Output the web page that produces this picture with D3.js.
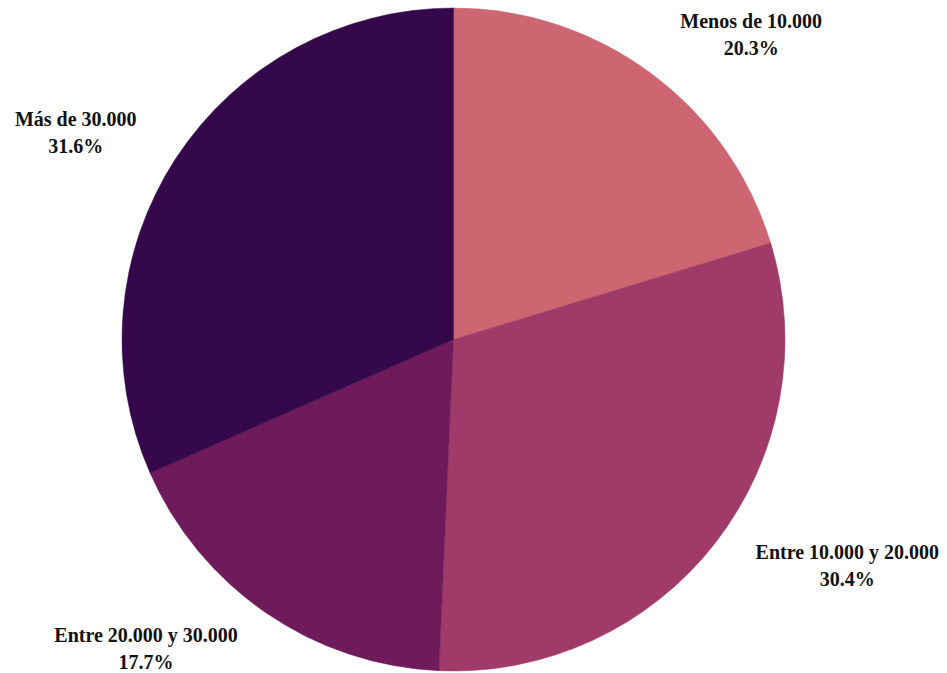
<!DOCTYPE html>
<html>
<head>
<meta charset="utf-8">
<script src="https://cdn.jsdelivr.net/npm/d3@7"></script>
<style>
  html, body { margin: 0; padding: 0; background: #ffffff; }
  svg { display: block; }
</style>
</head>
<body>
<svg id="chart" width="947" height="673"></svg>
<script>
// ---- Data ----
const categories = ["Menos de 10.000", "Entre 10.000 y 20.000", "Entre 20.000 y 30.000", "Más de 30.000"];
const shares = [20.3, 30.4, 17.7, 31.6];
const colors = ["#cd6670", "#a03a68", "#6f1a5a", "#35084b"];

// ---- Layout ----
const width = 947, height = 673;
const cx = 453.5, cy = 339.5, radius = 331.5;
// label centre positions relative to pie centre (angle in degrees clockwise from top, distance in px)
const labelAngles = [45, 120.7, 224.2, 297.8];
const labelDists = [421, 458, 441, 427];

const svg = d3.select("#chart");
const g = svg.append("g").attr("transform", `translate(${cx},${cy})`);

const data = categories.map((c, i) => ({ cat: c, value: shares[i], color: colors[i] }));

const pie = d3.pie().value(d => d.value).sort(null).startAngle(0).endAngle(2 * Math.PI);
const arc = d3.arc().innerRadius(0).outerRadius(radius);

const arcs = pie(data);

g.selectAll("path.slice")
  .data(arcs)
  .join("path")
  .attr("class", "slice")
  .attr("d", arc)
  .attr("fill", d => d.data.color)
  .attr("stroke", d => d.data.color)
  .attr("stroke-width", 0.5);

const labels = g.selectAll("text.lbl")
  .data(arcs)
  .join("text")
  .attr("class", "lbl")
  .attr("text-anchor", "middle")
  .attr("font-family", "'Liberation Serif', 'Times New Roman', serif")
  .attr("font-weight", "bold")
  .attr("font-size", 20)
  .attr("fill", "#111")
  .attr("transform", (d, i) => {
    const a = labelAngles[i] * Math.PI / 180;
    const x = Math.sin(a) * labelDists[i];
    const y = -Math.cos(a) * labelDists[i];
    return `translate(${x},${y})`;
  });

labels.append("tspan")
  .attr("x", 0)
  .attr("dy", -14)
  .text(d => d.data.cat);
labels.append("tspan")
  .attr("x", 0)
  .attr("dy", 27)
  .text(d => d3.format(".1f")(d.data.value) + "%");
</script>
</body>
</html>
